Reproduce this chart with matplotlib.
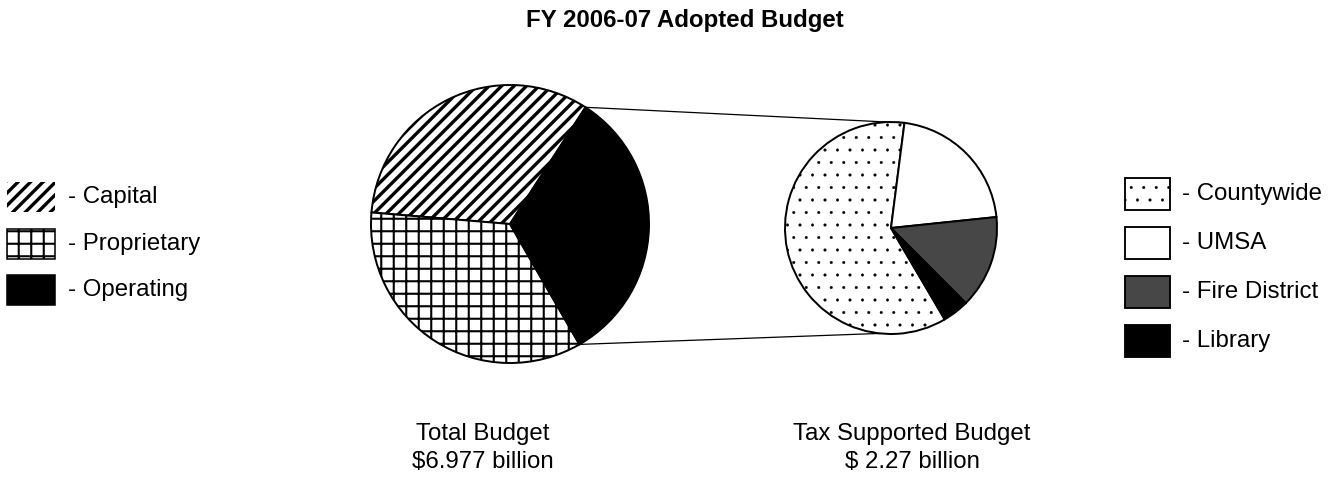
import numpy as np
import matplotlib
matplotlib.use("Agg")
import matplotlib.pyplot as plt
from matplotlib.patches import Rectangle

plt.rcParams['font.family'] = ['Liberation Sans', 'DejaVu Sans']
plt.rcParams['hatch.linewidth'] = 2.0

# data (billions)
total_labels = ['Capital', 'Proprietary', 'Operating']
total_values = [2.290, 2.417, 2.270]
tax_labels = ['Countywide', 'UMSA', 'Fire District', 'Library']
tax_values = [1.373, 0.484, 0.322, 0.091]

title = 'FY 2006-07 Adopted Budget'
total_caption = ['Total Budget', '$6.977 billion']
tax_caption = ['Tax Supported Budget', '$ 2.27 billion']

W, H = 1341, 480
DPI = 75
fig = plt.figure(figsize=(W / DPI, H / DPI), dpi=DPI)
ax = fig.add_axes([0, 0, 1, 1])


def py(y):
    # pixel row (from top) -> data y
    return H - y


def hatch_width(p, lw):
    # per-artist hatch width if this matplotlib has it
    if hasattr(p, 'set_hatch_linewidth'):
        p.set_hatch_linewidth(lw)


# styles
total_face = ['white', 'white', 'black']
total_hatch = ['//', '+', None]
tax_face = ['white', 'white', '#474747', 'black']
tax_hatch = ['.', None, None, None]

# left pie
lc, lr = (510, py(224)), 139
left_start = 57.1
lw_, _ = ax.pie(total_values, center=lc, radius=lr, startangle=left_start,
                counterclock=True, colors=total_face, hatch=total_hatch,
                wedgeprops=dict(edgecolor='black', linewidth=1.9), frame=True)
hatch_width(lw_[0], 3.2)

# right pie
rc, rr = (891, py(228)), 106
right_top = 82.7
frac = np.array(tax_values) / sum(tax_values)
rw_, _ = ax.pie(tax_values, center=rc, radius=rr, startangle=right_top + frac[0] * 360,
                counterclock=False, colors=tax_face, hatch=tax_hatch,
                wedgeprops=dict(edgecolor='black', linewidth=1.9), frame=True)
hatch_width(rw_[0], 0.4)
ax.set_xlim(0, W)
ax.set_ylim(0, H)
ax.set_aspect('auto')
ax.axis('off')

# connector lines
op_frac = total_values[2] / sum(total_values)
a_top = np.radians(left_start)
a_bot = np.radians(left_start - op_frac * 360)
b_top = np.radians(right_top)
b_bot = np.radians(-96)
ax.plot([lc[0] + lr * np.cos(a_top), rc[0] + rr * np.cos(b_top)],
        [lc[1] + lr * np.sin(a_top), rc[1] + rr * np.sin(b_top)],
        color='black', lw=1.2)
ax.plot([lc[0] + lr * np.cos(a_bot), rc[0] + rr * np.cos(b_bot)],
        [lc[1] + lr * np.sin(a_bot), rc[1] + rr * np.sin(b_bot)],
        color='black', lw=1.2)

# title and captions
ax.text(685, py(20), title, ha='center', va='center', fontsize=23,
        fontweight='bold')
ax.text(483, py(434), total_caption[0], ha='center', va='center', fontsize=23)
ax.text(483, py(462), total_caption[1], ha='center', va='center', fontsize=23)
ax.text(912, py(434), tax_caption[0], ha='center', va='center', fontsize=23)
ax.text(912, py(462), tax_caption[1], ha='center', va='center', fontsize=23)

# left legend
left_rows = [197, 244, 290]
left_edge = [False, True, True]
for lab, fc, ht, ec, yy in zip(total_labels, total_face, total_hatch, left_edge, left_rows):
    r = Rectangle((7, py(yy + 15)), 48, 30, facecolor=fc, hatch=ht,
                  edgecolor='black', linewidth=1.5 if ec else 0)
    ax.add_patch(r)
    if ht == '//':
        hatch_width(r, 3.2)
    ax.text(68, py(yy), '- ' + lab, ha='left', va='center', fontsize=23)

# right legend
right_rows = [194, 243, 292, 341]
for lab, fc, ht, yy in zip(tax_labels, tax_face, tax_hatch, right_rows):
    r = Rectangle((1125, py(yy + 16)), 45, 32, facecolor=fc, hatch=ht,
                  edgecolor='black', linewidth=1.8)
    ax.add_patch(r)
    if ht == '.':
        hatch_width(r, 0.4)
    ax.text(1182, py(yy), '- ' + lab, ha='left', va='center', fontsize=23)

fig.savefig('out.png', dpi=DPI, facecolor='white')
